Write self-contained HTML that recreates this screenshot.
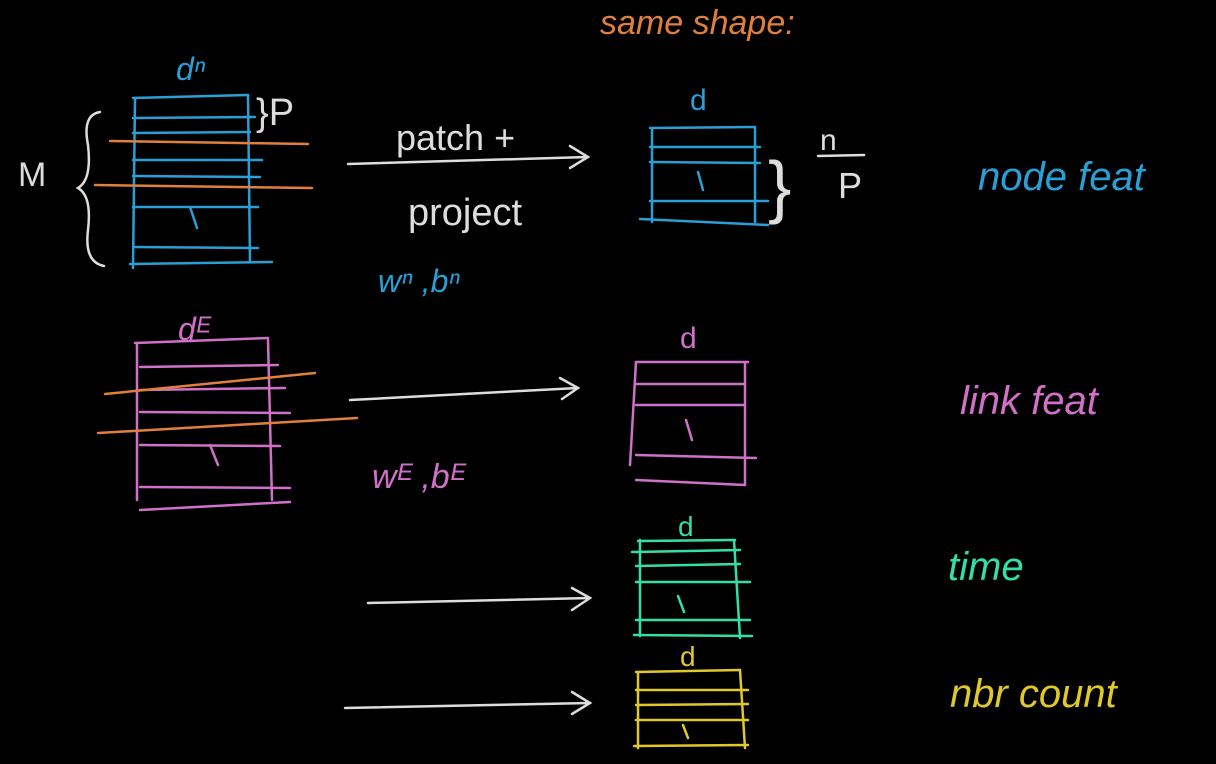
<!DOCTYPE html>
<html><head><meta charset="utf-8"><style>
html,body{margin:0;padding:0;background:#000;width:1216px;height:764px;overflow:hidden}
svg{display:block}
text{font-family:"Liberation Sans",sans-serif;font-weight:normal}
</style></head><body>
<svg width="1216" height="764" viewBox="0 0 1216 764" stroke-linecap="round" fill="none">
<rect width="1216" height="764" fill="#000"/>
<text x="600" y="34" fill="#e0803a" font-size="34" font-style="italic">same shape:</text>

<g stroke="#2a9fd6" stroke-width="2.5">
<line x1="135" y1="98" x2="133" y2="268"/><line x1="248" y1="95" x2="250" y2="262"/>
<line x1="133" y1="98" x2="248" y2="95"/><line x1="133" y1="118" x2="255" y2="117"/>
<line x1="133" y1="133" x2="250" y2="132"/><line x1="133" y1="160" x2="262" y2="160"/>
<line x1="133" y1="176" x2="260" y2="177"/><line x1="133" y1="207" x2="258" y2="207"/>
<line x1="133" y1="247" x2="258" y2="248"/><line x1="130" y1="264" x2="272" y2="262"/>
<line x1="190" y1="207" x2="197" y2="228"/>
</g>
<g stroke="#e0803a" stroke-width="2.5">
<line x1="110" y1="141" x2="308" y2="144"/><line x1="95" y1="185" x2="312" y2="188"/>
</g>
<text x="176" y="80" fill="#2a9fd6" font-size="32" font-style="italic">dⁿ</text>
<text x="256" y="125" fill="#ddd" font-size="38">}P</text>
<path d="M100 112 Q82 115 88 145 Q92 180 78 188 Q92 196 88 230 Q84 262 104 266" stroke="#ddd" stroke-width="2.5"/>
<text x="18" y="186" fill="#ddd" font-size="34">M</text>

<g stroke="#ddd" stroke-width="2.5">
<line x1="348" y1="164" x2="588" y2="157"/><polyline points="570,146 588,157 570,168"/>
</g>
<text x="396" y="150" fill="#ddd" font-size="36">patch +</text>
<text x="408" y="225" fill="#ddd" font-size="38">project</text>
<text x="378" y="292" fill="#2a9fd6" font-size="32" font-style="italic">wⁿ ,bⁿ</text>

<g stroke="#2a9fd6" stroke-width="2.5">
<line x1="652" y1="128" x2="652" y2="222"/><line x1="755" y1="128" x2="755" y2="222"/>
<line x1="650" y1="128" x2="755" y2="127"/><line x1="650" y1="147" x2="760" y2="147"/>
<line x1="650" y1="162" x2="760" y2="163"/><line x1="650" y1="201" x2="768" y2="201"/>
<line x1="640" y1="219" x2="768" y2="225"/><line x1="698" y1="172" x2="703" y2="190"/>
</g>
<text x="690" y="110" fill="#2a9fd6" font-size="30">d</text>
<text x="768" y="210" fill="#ddd" font-size="70">}</text>
<text x="820" y="150" fill="#ddd" font-size="30">n</text>
<line x1="818" y1="156" x2="864" y2="155" stroke="#ddd" stroke-width="2.5"/>
<text x="838" y="198" fill="#ddd" font-size="36">P</text>
<text x="978" y="190" fill="#2a9fd6" font-size="40" font-style="italic">node feat</text>

<g stroke="#d070c8" stroke-width="2.5">
<line x1="137" y1="343" x2="137" y2="500"/><line x1="268" y1="340" x2="272" y2="500"/>
<line x1="135" y1="343" x2="268" y2="338"/><line x1="140" y1="367" x2="278" y2="365"/>
<line x1="140" y1="390" x2="285" y2="388"/><line x1="140" y1="412" x2="290" y2="413"/>
<line x1="140" y1="445" x2="280" y2="446"/><line x1="140" y1="487" x2="290" y2="488"/>
<line x1="140" y1="510" x2="290" y2="502"/><line x1="210" y1="445" x2="218" y2="465"/>
</g>
<g stroke="#e0803a" stroke-width="2.5">
<line x1="105" y1="394" x2="315" y2="373"/><line x1="98" y1="433" x2="357" y2="418"/>
</g>
<text x="178" y="340" fill="#d070c8" font-size="32" font-style="italic">dᴱ</text>
<g stroke="#ddd" stroke-width="2.5">
<line x1="350" y1="400" x2="578" y2="388"/><polyline points="560,378 578,388 562,399"/>
</g>
<text x="372" y="488" fill="#d070c8" font-size="34" font-style="italic">wᴱ ,bᴱ</text>
<g stroke="#d070c8" stroke-width="2.5">
<line x1="636" y1="362" x2="630" y2="465"/><line x1="745" y1="362" x2="745" y2="485"/>
<line x1="636" y1="362" x2="748" y2="362"/><line x1="636" y1="384" x2="745" y2="384"/>
<line x1="636" y1="405" x2="745" y2="405"/><line x1="636" y1="455" x2="756" y2="458"/>
<line x1="636" y1="480" x2="745" y2="485"/><line x1="686" y1="420" x2="692" y2="440"/>
</g>
<text x="680" y="348" fill="#d070c8" font-size="30">d</text>
<text x="960" y="414" fill="#d070c8" font-size="40" font-style="italic">link feat</text>

<g stroke="#30e0a8" stroke-width="2.5">
<line x1="640" y1="540" x2="640" y2="636"/><line x1="734" y1="540" x2="740" y2="638"/>
<line x1="638" y1="541" x2="735" y2="540"/><line x1="632" y1="552" x2="740" y2="550"/>
<line x1="636" y1="566" x2="740" y2="564"/><line x1="636" y1="582" x2="750" y2="582"/>
<line x1="636" y1="620" x2="750" y2="620"/><line x1="634" y1="635" x2="752" y2="636"/>
<line x1="678" y1="596" x2="684" y2="612"/>
</g>
<text x="678" y="536" fill="#30e0a8" font-size="28">d</text>
<g stroke="#ddd" stroke-width="2.5">
<line x1="368" y1="603" x2="590" y2="598"/><polyline points="572,588 590,598 572,610"/>
</g>
<text x="948" y="580" fill="#30e0a8" font-size="40" font-style="italic">time</text>

<g stroke="#e0c828" stroke-width="2.5">
<line x1="638" y1="672" x2="638" y2="748"/><line x1="740" y1="670" x2="745" y2="748"/>
<line x1="636" y1="672" x2="740" y2="670"/><line x1="636" y1="690" x2="748" y2="690"/>
<line x1="636" y1="705" x2="748" y2="704"/><line x1="636" y1="720" x2="748" y2="720"/>
<line x1="634" y1="746" x2="748" y2="745"/><line x1="683" y1="725" x2="688" y2="738"/>
</g>
<text x="680" y="666" fill="#e0c828" font-size="28">d</text>
<g stroke="#ddd" stroke-width="2.5">
<line x1="345" y1="708" x2="590" y2="703"/><polyline points="572,692 590,703 572,714"/>
</g>
<text x="950" y="707" fill="#e0c828" font-size="40" font-style="italic">nbr count</text>
</svg>
</body></html>
